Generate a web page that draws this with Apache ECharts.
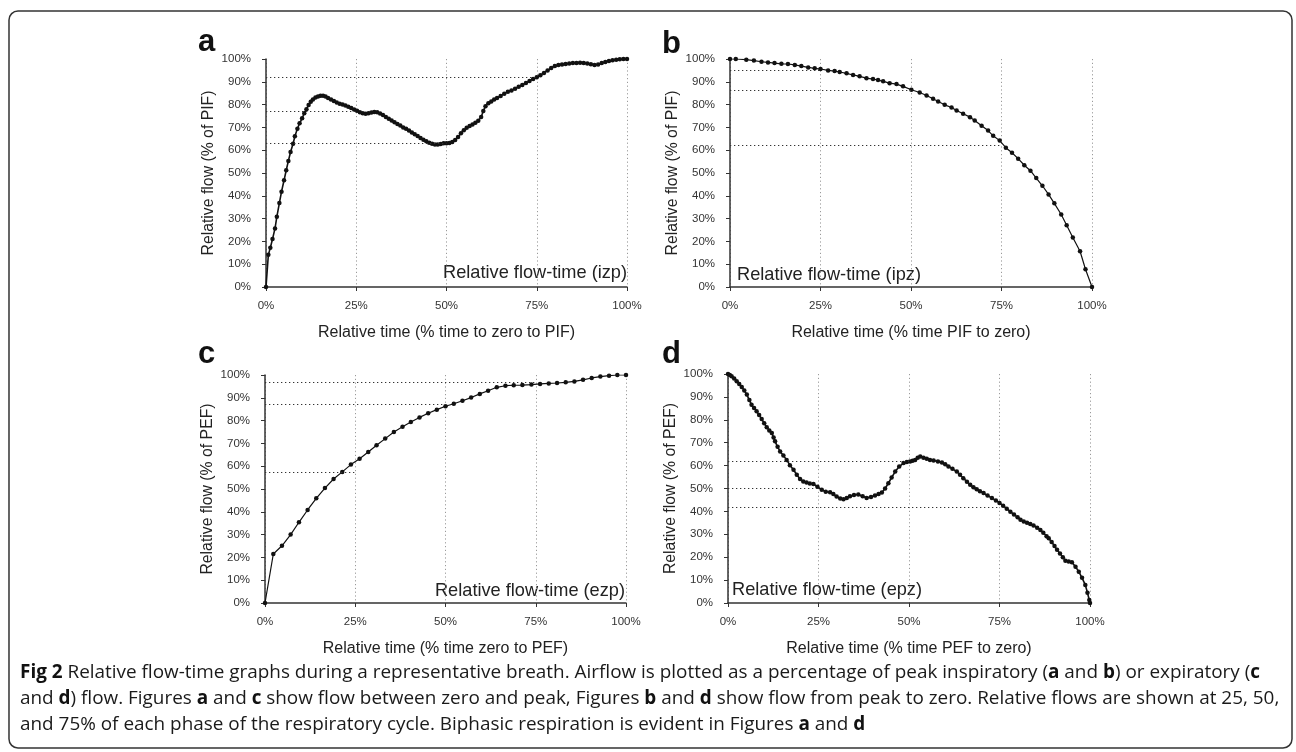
<!DOCTYPE html>
<html><head><meta charset="utf-8">
<script src="https://cdn.jsdelivr.net/npm/echarts@6/dist/echarts.min.js"></script>
<style>html,body{margin:0;padding:0;background:#fff}#c{width:1296px;height:752px}</style>
</head><body><div id="c"></div>
<script>
// ---------- data ----------
const xTickStep = 25;   // x ticks: 0%,25%,50%,75%,100%
const yTickStep = 10;   // y ticks: 0%..100%

const seriesA = [[0,0],[0.65,14.1],[1.2,17.2],[1.8,21],[2.5,25.7],[3.0,30.8],[3.7,36.8],[4.3,41.8],[5.0,46.8],[5.6,51.2],[6.2,55.3],[6.8,59.2],[7.5,62.8],[8.0,66.1],[8.7,69.4],[9.3,71.8],[10.0,74],[10.6,76.2],[11.2,78],[11.8,79.8],[12.4,81.2],[13.0,82.2],[13.7,83.1],[14.4,83.6],[15.1,83.9],[15.8,83.9],[16.5,83.5],[17.2,82.9],[18.0,82.2],[18.8,81.6],[19.6,80.9],[20.4,80.4],[21.2,80.0],[22.0,79.6],[22.8,79.1],[23.6,78.5],[24.4,77.9],[25.2,77.3],[26.0,76.6],[26.8,76.2],[27.6,76.0],[28.4,76.2],[29.2,76.5],[30.0,76.7],[30.8,76.6],[31.6,76.1],[32.4,75.4],[33.2,74.6],[34.0,73.8],[34.8,73.0],[35.6,72.3],[36.4,71.5],[37.2,70.8],[38.0,70.0],[38.8,69.4],[39.6,68.6],[40.4,67.8],[41.2,67.0],[42.0,66.2],[42.8,65.4],[43.6,64.6],[44.4,63.9],[45.2,63.3],[46.0,62.8],[46.8,62.5],[47.6,62.5],[48.4,62.7],[49.2,63.0],[50.0,63.1],[50.8,63.2],[51.6,63.6],[52.4,64.5],[53.2,65.8],[54.0,67.4],[54.8,68.8],[55.6,69.9],[56.4,70.6],[57.2,71.3],[58.0,72.0],[58.8,72.9],[59.6,74.6],[60.2,77.2],[60.8,79.3],[61.6,80.6],[62.4,81.4],[63.2,82.2],[64.0,82.9],[65.0,83.8],[66.0,84.8],[67.0,85.6],[68.0,86.2],[69.0,87.0],[70.0,87.8],[71.0,88.6],[72.0,89.5],[73.0,90.4],[74.0,91.2],[75.0,92.0],[76.0,92.9],[77.0,93.9],[78.0,95.0],[79.0,96.1],[80.0,96.9],[81.0,97.4],[82.0,97.6],[83.0,97.8],[84.0,98.0],[85.0,98.2],[86.0,98.3],[87.0,98.4],[88.0,98.2],[89.0,98.0],[90.0,97.7],[91.0,97.4],[92.0,97.6],[93.0,98.2],[94.0,98.7],[95.0,99.1],[96.0,99.4],[97.0,99.7],[98.0,99.9],[99.0,100],[100,100]];

const seriesB = [[0,100],[1.6,100],[4.5,99.7],[6.6,99.3],[8.7,98.8],[10.5,98.5],[12.3,98.2],[14.2,97.9],[16,97.8],[17.9,97.4],[19.7,96.9],[21.6,96.3],[23.4,95.9],[25,95.6],[27.1,95],[28.9,94.7],[30.3,94.3],[32.2,93.7],[34,93],[35.8,92.4],[37.7,91.6],[39.5,91.2],[40.9,90.8],[42.3,90.2],[44.1,89.4],[46,89],[47.8,88],[50.1,86.5],[52.4,85.3],[54.3,84],[56.1,82.6],[57.5,81.4],[59.3,79.9],[61.2,78.7],[62.6,77.4],[64.4,76],[66.3,74.5],[67.6,73],[69.5,70.7],[71.3,68.6],[72.7,66.3],[74.5,64.2],[76.2,61.1],[77.9,58.9],[79.6,56.3],[81.3,53.4],[83,51],[84.6,47.8],[86.3,44.4],[88,40.6],[89.6,36.7],[91.5,31.8],[93,27.1],[94.7,21.7],[96.7,15.7],[98.2,7.8],[100,0]];

const seriesC = [[0,0],[2.3,21.5],[4.7,25.1],[7.1,30],[9.4,35.4],[11.8,40.8],[14.2,45.9],[16.6,50.4],[19,54.4],[21.4,57.5],[23.8,60.7],[26.2,63.3],[28.6,66.2],[30.9,69.2],[33.3,72.1],[35.7,75],[38.1,77.3],[40.4,79.4],[42.8,81.4],[45.2,83.2],[47.6,84.8],[50,86.3],[52.3,87.4],[54.7,88.7],[57.1,90.1],[59.5,91.7],[61.8,93.1],[64.2,94.6],[66.6,95.3],[68.9,95.5],[71.3,95.6],[73.8,95.8],[76.2,96.1],[78.6,96.3],[80.9,96.5],[83.3,96.8],[85.7,97.2],[88.1,97.9],[90.5,98.7],[92.9,99.3],[95.3,99.7],[97.6,100],[100,100]];

const seriesD = [[0,100],[0.5,99.6],[1.0,99.0],[1.7,98.0],[2.4,96.8],[3.1,95.6],[3.8,94.3],[4.5,92.8],[5.2,91.0],[5.9,88.6],[6.5,86.6],[7.2,85.1],[7.9,83.7],[8.6,82.1],[9.3,80.3],[10.0,78.5],[10.7,76.8],[11.4,75.3],[12.1,74.2],[12.6,72.3],[13.0,70.6],[13.7,68.2],[14.4,66.2],[15.3,64.4],[16.2,62.5],[17.1,60.2],[18.1,58.2],[19.0,56.0],[19.9,54.2],[20.8,53.1],[21.7,52.6],[22.6,52.2],[23.6,52.0],[24.7,50.8],[25.9,49.4],[27.0,48.6],[28.2,48.4],[29.1,47.6],[30.0,46.5],[31.0,45.6],[31.9,45.3],[32.8,45.8],[33.7,46.6],[34.8,47.2],[36.0,47.4],[37.2,46.6],[38.3,45.9],[39.5,46.3],[40.6,46.9],[41.6,47.6],[42.5,48.3],[43.4,50.0],[44.3,52.3],[45.2,54.8],[46.2,57.4],[47.3,59.6],[48.5,61.1],[49.4,61.6],[50.3,61.8],[51.0,62.1],[51.7,62.5],[52.4,63.4],[53.1,64.0],[54.0,63.4],[54.9,63.0],[55.8,62.5],[56.8,62.2],[58.0,61.8],[59.1,61.4],[60.0,60.6],[60.9,59.6],[62.0,58.6],[63.2,57.4],[64.1,56.0],[65.0,54.5],[66.0,53.0],[66.9,51.6],[67.8,50.6],[68.7,49.7],[69.6,48.8],[70.6,48.0],[71.7,46.9],[72.9,45.8],[74.0,44.8],[75.0,43.7],[76.0,42.5],[77.0,41.2],[78.0,39.9],[79.0,38.7],[80.0,37.4],[80.8,36.3],[81.7,35.6],[82.6,35.0],[83.5,34.5],[84.4,33.8],[85.4,32.9],[86.3,31.9],[87.1,30.7],[88.0,29.2],[88.6,28.3],[89.4,26.6],[90.2,24.9],[90.9,23.2],[91.7,21.6],[92.5,20.0],[93.2,18.5],[94.1,18.1],[95.0,17.8],[96.0,15.8],[96.9,13.7],[97.8,11.0],[98.7,7.9],[99.3,4.5],[99.8,1.3],[100,0]];

// reference (dotted) lines: [x where it ends, relative flow]
const refA = [[75,92],[25,77],[50,63]];
const refB = [[25,95],[50,86.2],[75,62]];
const refC = [[75,96.8],[50,87.1],[25,57.3]];
const refD = [[50,62],[25,50.1],[75,41.8]];

const panelLetters = ['a','b','c','d'];
const panelTitles = ['Relative flow-time (izp)','Relative flow-time (ipz)','Relative flow-time (ezp)','Relative flow-time (epz)'];
const xNames = ['Relative time (% time to zero to PIF)','Relative time (% time PIF to zero)','Relative time (% time zero to PEF)','Relative time (% time PEF to zero)'];
const yNames = ['Relative flow (% of PIF)','Relative flow (% of PIF)','Relative flow (% of PEF)','Relative flow (% of PEF)'];

const captionLines = [
  '{b|Fig 2} Relative flow-time graphs during a representative breath. Airflow is plotted as a percentage of peak inspiratory ({b|a} and {b|b}) or expiratory ({b|c}',
  'and {b|d}) flow. Figures {b|a} and {b|c} show flow between zero and peak, Figures {b|b} and {b|d} show flow from peak to zero. Relative flows are shown at 25, 50,',
  'and 75% of each phase of the respiratory cycle. Biphasic respiration is evident in Figures {b|a} and {b|d}'
];

// ---------- layout ----------
const grids = [
  {left:266, top:59, width:361, height:228},
  {left:730, top:59, width:362, height:228},
  {left:265, top:375, width:361, height:228},
  {left:728, top:374, width:362, height:229}
];
const allSeries = [seriesA, seriesB, seriesC, seriesD];
const allRefs = [refA, refB, refC, refD];
const FONT = '"Liberation Sans", Arial, sans-serif';
const INK = '#222';

const xAxes = grids.map((g,i)=>({
  gridIndex:i, type:'value', min:0, max:100, interval:xTickStep,
  name:xNames[i], nameLocation:'middle', nameGap:38,
  nameTextStyle:{fontSize:16, color:INK, fontFamily:FONT},
  axisLine:{show:true, onZero:false, lineStyle:{color:'#333', width:1.5}},
  axisTick:{show:true, length:4, lineStyle:{color:'#333'}},
  axisLabel:{formatter:v=>v+'%', color:'#333', fontSize:11.5, fontFamily:FONT, margin:13},
  splitLine:{show:true, lineStyle:{type:[1.2,2.6], color:'#9a9a9a', width:1}}
}));
const yAxes = grids.map((g,i)=>({
  gridIndex:i, type:'value', min:0, max:100, interval:yTickStep,
  name:yNames[i], nameLocation:'middle', nameGap:49,
  nameTextStyle:{fontSize:15.8, color:INK, fontFamily:FONT},
  axisLine:{show:true, lineStyle:{color:'#333', width:1.5}},
  axisTick:{show:true, length:4, lineStyle:{color:'#333'}},
  axisLabel:{formatter:v=>v+'%', color:'#333', fontSize:11.5, fontFamily:FONT, margin:15},
  splitLine:{show:false}
}));
const series = allSeries.map((d,i)=>({
  type:'line', xAxisIndex:i, yAxisIndex:i, data:d,
  symbol:'circle', symbolSize:4.5, showSymbol:true,
  lineStyle:{color:'#111', width:(i===0||i===3)?1.6:1.2},
  itemStyle:{color:'#111'},
  animation:false, silent:true,
  markLine:{
    silent:true, symbol:['none','none'], label:{show:false}, animation:false,
    lineStyle:{type:[1.3,2.7], color:'#333', width:1.1},
    data: allRefs[i].map(([x,y])=>[{coord:[0,y]},{coord:[x,y]}])
  }
}));

// ---------- text graphics ----------
const letterPos = [[198,42],[662,44],[198,354],[662,354]];
const titlePos = [
  {x:627, y:273, align:'right'},
  {x:737, y:275, align:'left'},
  {x:625, y:591, align:'right'},
  {x:732, y:590, align:'left'}
];
const graphics = [];
graphics.push({type:'rect', silent:true, shape:{x:9, y:11, width:1283, height:737, r:9},
  style:{fill:'none', stroke:'#333', lineWidth:1.5}});
panelLetters.forEach((t,i)=>{
  graphics.push({type:'text', silent:true, style:{x:letterPos[i][0], y:letterPos[i][1], text:t,
    fontSize:31, fontWeight:'bold', fontFamily:FONT, fill:'#111', align:'left', verticalAlign:'middle'}});
});
panelTitles.forEach((t,i)=>{
  graphics.push({type:'text', silent:true, style:{x:titlePos[i].x, y:titlePos[i].y, text:t,
    fontSize:18.2, fontFamily:FONT, fill:INK, align:titlePos[i].align, verticalAlign:'middle'}});
});

// caption font size fitted so the second caption line spans the text block width
const CAPFONT = '"Open Sans", "Noto Sans", sans-serif';
const cv = document.createElement('canvas').getContext('2d');
function lineWidth(t, size){
  let w = 0;
  t.split(/(\{b\|[^}]*\})/).forEach(seg=>{
    const m = seg.match(/^\{b\|([^}]*)\}$/);
    cv.font = (m ? 'bold ' : '') + size + 'px ' + CAPFONT;
    w += cv.measureText(m ? m[1] : seg).width;
  });
  return w;
}
const capSize = Math.max(12, Math.min(20, 17 * 1260 / lineWidth(captionLines[1], 17)));
const capY = [673, 699, 725];
captionLines.forEach((t,i)=>{
  graphics.push({type:'text', silent:true, style:{x:20, y:capY[i], text:t,
    fontSize:capSize, fontFamily:CAPFONT, fill:'#1a1a1a', align:'left', verticalAlign:'middle',
    rich:{b:{fontSize:capSize, fontFamily:CAPFONT, fontWeight:'bold', fill:'#111'}}}});
});

const chart = echarts.init(document.getElementById('c'), null, {renderer:'canvas'});
chart.setOption({
  animation:false,
  backgroundColor:'#fff',
  grid:grids.map(g=>Object.assign({containLabel:false}, g)),
  xAxis:xAxes, yAxis:yAxes, series:series, graphic:graphics
});
</script>
</body></html>
